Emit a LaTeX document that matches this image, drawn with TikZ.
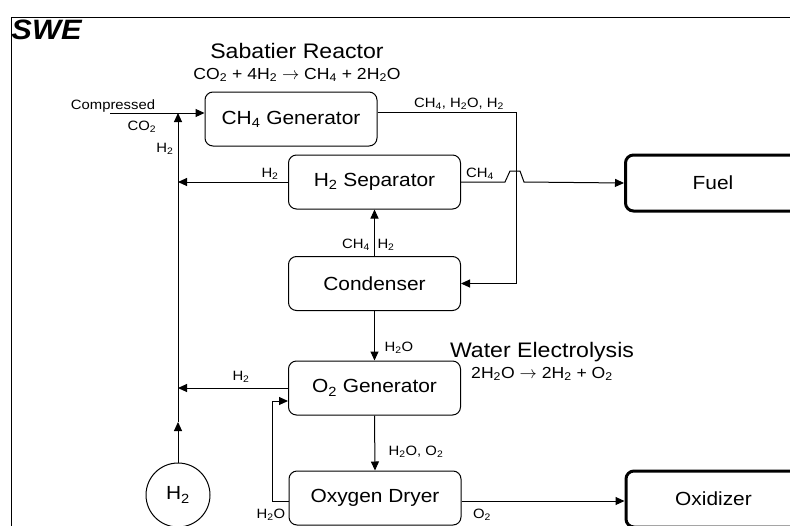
\documentclass[tikz,border=0pt]{standalone}
\usepackage{fontspec}
\setmainfont{Liberation Sans}[FakeStretch=1.1]
\usetikzlibrary{arrows.meta,calc}
\newcommand\dn[1]{\textsubscript{#1}}
\begin{document}
\begin{tikzpicture}[x=1pt,y=-1pt,line width=1pt,
  arr/.style={-{Triangle[length=9pt,width=8pt]}},
  box/.style={draw,rounded corners=8pt,minimum width=172pt,minimum height=54pt,inner sep=0pt,font=\fontsize{19}{22}\selectfont},
  bigbox/.style={box,line width=3pt,minimum width=175pt,minimum height=56pt},
  lbl/.style={inner sep=0pt,anchor=base,font=\fontsize{13.5}{15}\selectfont},
  ttl/.style={inner sep=0pt,anchor=base,font=\fontsize{21}{24}\selectfont},
  eqn/.style={inner sep=0pt,anchor=base,font=\fontsize{16}{18}\selectfont}]
\useasboundingbox (0,0) rectangle (790,525);
% frame
\draw (795,17) -- (11,17) -- (11,530);
\node[inner sep=0pt,anchor=base west,font=\fontsize{28}{30}\selectfont\bfseries\itshape] (swe) at (11,39) {SWE};
% titles
\node[ttl] (sab) at (297,58) {Sabatier Reactor};
\node[eqn] (eq1) at (297,79) {CO\dn{2} + 4H\dn{2} $\rightarrow$ CH\dn{4} + 2H\dn{2}O};
\node[ttl] (wat) at (542,357) {Water Electrolysis};
\node[eqn] (eq2) at (542,378) {2H\dn{2}O $\rightarrow$ 2H\dn{2} + O\dn{2}};
% boxes
\node[box] (gen) at (291,119) {CH\dn{4} Generator};
\node[box] (sep) at (374.5,182) {H\dn{2} Separator};
\node[box] (cond) at (374.5,283.5) {Condenser};
\node[box] (o2g) at (374.5,388) {O\dn{2} Generator};
\node[box] (dry) at (375,498) {Oxygen Dryer};
\node[bigbox] (fuel) at (713,183) {Fuel};
\node[bigbox] (oxid) at (713.5,499) {Oxidizer};
\node[draw,circle,minimum size=64pt,inner sep=0pt,font=\fontsize{19}{22}\selectfont] (h2) at (178,495) {H\dn{2}};
% coordinates
\coordinate (cin) at (110,113);
\coordinate (j1) at (178,113);
\coordinate (jm) at (178,422);
\coordinate (tr) at (516,112);
\coordinate (gout) at ($(gen.east)+(0,-7)$);
\coordinate (rl) at (272,401);
\coordinate (dw) at ($(dry.west)+(0,3)$);
\coordinate (de) at ($(dry.east)+(0,3)$);
% connectors
\draw[arr] (cin) -- (cin -| gen.west);
\draw[arr] (h2.north) -- (jm);
\draw[arr] (jm) -- (j1);
\draw[arr] (sep.west) -- (sep.west -| j1);
\draw[arr] (o2g.west) -- (o2g.west -| j1);
\draw[arr] (gout) -- (tr) -- (tr |- cond.east) -- (cond.east);
\draw[arr] (sep.east) -- ($(tr |- sep.east)+(-11,0)$) -- ($(tr |- sep.east)+(-6,-11)$) -- ($(tr |- sep.east)+(4,-11)$) -- ($(tr |- sep.east)+(8,0)$) -- (fuel.west);
\draw[arr] (cond.north) -- (sep.south);
\draw[arr] (cond.south) -- (o2g.north);
\draw[arr] (o2g.south) -- (dry.north);
\draw[arr] (dw) -- (dw -| rl) -- (rl) -- (rl -| o2g.west);
\draw[arr] (de) -- (de -| oxid.west);
% labels
\node[lbl] (lc1) at (113,109) {Compressed};
\node[lbl] (lc2) at (142,130) {CO\dn{2}};
\node[lbl] (lh1) at (165,152) {H\dn{2}};
\node[lbl] (lh2) at (270,177) {H\dn{2}};
\node[lbl] (lm1) at (480,177) {CH\dn{4}};
\node[lbl] (lmix) at (459,107) {CH\dn{4}, H\dn{2}O, H\dn{2}};
\node[lbl] (lm2) at (356,248) {CH\dn{4}};
\node[lbl] (lh3) at (386,248) {H\dn{2}};
\node[lbl] (lw1) at (399,351) {H\dn{2}O};
\node[lbl] (lh4) at (241,380) {H\dn{2}};
\node[lbl] (lwo) at (416,455) {H\dn{2}O, O\dn{2}};
\node[lbl] (lw2) at (271,518) {H\dn{2}O};
\node[lbl] (lo2) at (482,518) {O\dn{2}};
\end{tikzpicture}
\end{document}
